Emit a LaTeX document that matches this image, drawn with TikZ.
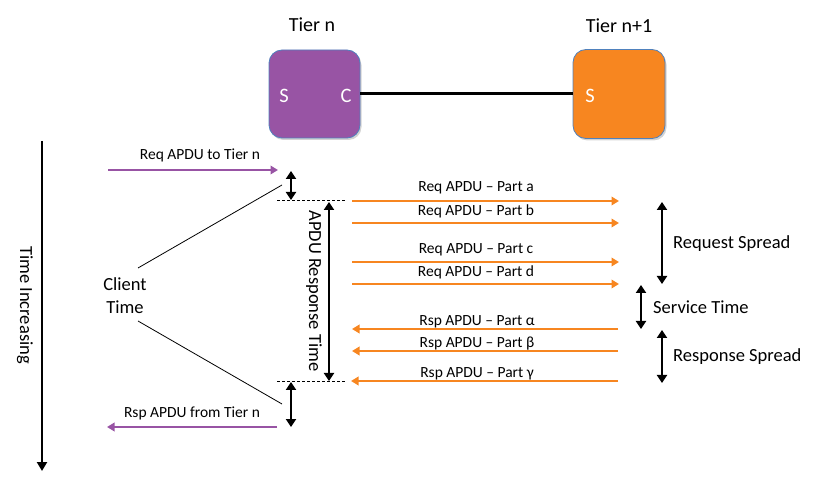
\documentclass[tikz,border=0pt]{standalone}
\usepackage{fontspec}
\setmainfont{Carlito}
\usetikzlibrary{arrows.meta,shadows}
\definecolor{tpurple}{RGB}{152,84,164}
\definecolor{torange}{RGB}{247,134,32}
\definecolor{tborder}{RGB}{79,129,189}
\tikzset{
  tierbox/.style={draw=tborder, line width=0.8pt, rounded corners=13pt, minimum width=91pt, minimum height=88pt, drop shadow={shadow xshift=1.5pt, shadow yshift=-2pt, opacity=0.35}},
  boxlbl/.style={text=white, font=\fontsize{20.5}{24}\selectfont, inner sep=0pt},
  titlelbl/.style={font=\fontsize{20}{24}\selectfont, inner sep=0pt},
  biglbl/.style={font=\fontsize{18.5}{23}\selectfont, inner sep=0pt},
  smalllbl/.style={font=\fontsize{15.5}{18}\selectfont, inner sep=0pt},
  orarrow/.style={draw=torange, line width=2.7pt, -{Triangle[width=8.5pt,length=7.5pt]}},
  purarrow/.style={draw=tpurple, line width=2.8pt, -{Triangle[width=8.5pt,length=7.5pt]}},
  dblarrow/.style={draw=black, line width=2.6pt, {Triangle[width=10pt,length=8pt]}-{Triangle[width=10pt,length=8pt]}},
  axisarrow/.style={draw=black, line width=2.8pt, -{Triangle[width=10pt,length=9pt]}},
  thinline/.style={draw=black, line width=0.8pt},
  dashline/.style={draw=black, line width=0.8pt, dash pattern=on 3pt off 2pt},
}
\begin{document}
\begin{tikzpicture}[x=1pt,y=-1pt]
\useasboundingbox (0,0) rectangle (825,486);
% tier boxes
\node[tierbox, fill=tpurple] (tn) at (314.5,94) {};
\node[tierbox, fill=torange, minimum width=92pt, minimum height=89pt] (tn1) at (619,94) {};
\node[boxlbl] (ts) at (284,96) {S};
\node[boxlbl] (tc) at (346,96) {C};
\node[boxlbl] (t1s) at (590,96) {S};
\node[titlelbl] (tiern) at (312,25) {Tier n};
\node[titlelbl] (tiern1) at (619,26) {Tier n+1};
\draw[line width=3pt] (tn.east) -- (tn1.west);
% time axis
\coordinate (ta0) at (42,141);
\coordinate (ta1) at (42,471);
\draw[axisarrow] (ta0) -- (ta1);
\node[biglbl, rotate=-90] (timeinc) at (25,305) {Time Increasing};
% client side
\coordinate (rq0) at (108,170);
\coordinate (rq1) at (278,170);
\draw[purarrow] (rq0) -- (rq1);
\node[smalllbl] (rqlbl) at (200,155) {Req APDU to Tier n};
\coordinate (rs0) at (277,427);
\coordinate (rs1) at (107,427);
\draw[purarrow] (rs0) -- (rs1);
\node[smalllbl] (rslbl) at (192,413) {Rsp APDU from Tier n};
\coordinate (d1a) at (291,171);
\coordinate (d1b) at (291,200);
\draw[dblarrow] (d1a) -- (d1b);
\coordinate (d2a) at (291,382);
\coordinate (d2b) at (291,427);
\draw[dblarrow] (d2a) -- (d2b);
\coordinate (ds1a) at (277,200);
\coordinate (ds1b) at (346,200);
\draw[dashline] (ds1a) -- (ds1b);
\coordinate (ds2a) at (277,381);
\coordinate (ds2b) at (346,381);
\draw[dashline] (ds2a) -- (ds2b);
\node[biglbl, align=center] (client) at (125,296) {Client\\Time};
\coordinate (cl1) at (282,185);
\coordinate (cl2) at (138,268);
\coordinate (cl3) at (138,321);
\coordinate (cl4) at (282,404);
\draw[thinline] (cl1) -- (cl2);
\draw[thinline] (cl3) -- (cl4);
% APDU response time
\coordinate (ar0) at (329,202);
\coordinate (ar1) at (329,381);
\draw[dblarrow] (ar0) -- (ar1);
\node[biglbl, rotate=-90] (artlbl) at (314,291) {APDU Response Time};
% orange parts
\foreach \nm/\yy/\ly/\txt in {pa/201/188/{Req APDU -- Part a}, pb/223/211/{Req APDU -- Part b}, pc/262/250/{Req APDU -- Part c}, pd/284/272/{Req APDU -- Part d}}{
  \coordinate (\nm0) at (352,\yy);
  \coordinate (\nm1) at (619,\yy);
  \draw[orarrow] (\nm0) -- (\nm1);
  \node[smalllbl] (\nm lbl) at (476,\ly) {\txt};
}
\foreach \nm/\yy/\ly/\xs/\txt in {px/329/322/352/{Rsp APDU -- Part α}, py/351/344/352/{Rsp APDU -- Part β}, pz/381/374/351/{Rsp APDU -- Part γ}}{
  \coordinate (\nm0) at (618,\yy);
  \coordinate (\nm1) at (\xs,\yy);
  \draw[orarrow] (\nm0) -- (\nm1);
  \node[smalllbl] (\nm lbl) at (477,\ly) {\txt};
}
% spreads
\coordinate (rq2a) at (662,202);
\coordinate (rq2b) at (662,284);
\draw[dblarrow] (rq2a) -- (rq2b);
\node[biglbl, anchor=west] (rqs) at (673,244) {Request Spread};
\coordinate (sva) at (641,285);
\coordinate (svb) at (641,329);
\draw[dblarrow] (sva) -- (svb);
\node[biglbl, anchor=west] (svt) at (653,307) {Service Time};
\coordinate (rpa) at (662,330);
\coordinate (rpb) at (662,383);
\draw[dblarrow] (rpa) -- (rpb);
\node[biglbl, anchor=west] (rps) at (673,357) {Response Spread};
\end{tikzpicture}
\end{document}
